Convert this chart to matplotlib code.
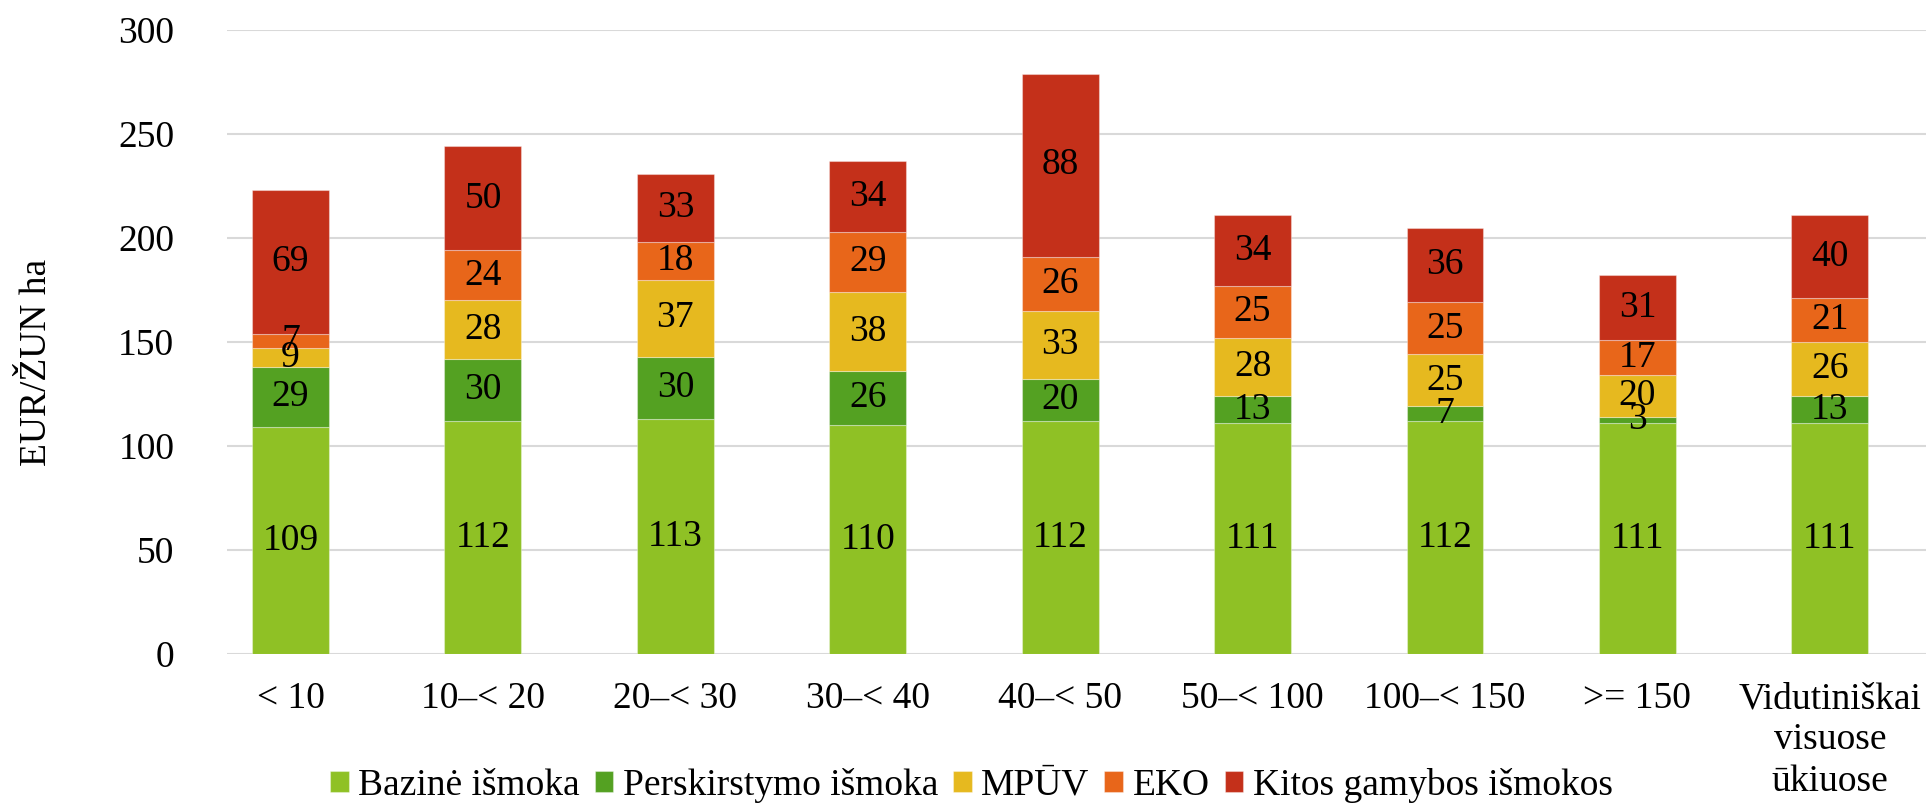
import matplotlib
import numpy as np

matplotlib.use("Agg")
import matplotlib.pyplot as plt  # noqa: E402

plt.rcParams["font.family"] = ["Liberation Serif", "DejaVu Serif"]

# ---------------------------------------------------------------------------
# Data
# ---------------------------------------------------------------------------

categories = [
    "< 10", "10–< 20", "20–< 30", "30–< 40", "40–< 50",
    "50–< 100", "100–< 150", ">= 150", "Vidutiniškai\nvisuose\nūkiuose",
]
series_names = [
    "Bazinė išmoka", "Perskirstymo išmoka", "MPŪV", "EKO",
    "Kitos gamybos išmokos",
]
bazine = [109, 112, 113, 110, 112, 111, 112, 111, 111]
perskirstymo = [29, 30, 30, 26, 20, 13, 7, 3, 13]
mpuv = [9, 28, 37, 38, 33, 28, 25, 20, 26]
eko = [7, 24, 18, 29, 26, 25, 25, 17, 21]
kitos = [69, 50, 33, 34, 88, 34, 36, 31, 40]

colors = ["#8FC125", "#54A122", "#E6B91F", "#E8661A", "#C4301A"]
FS = 27

# ---------------------------------------------------------------------------
# Plot
# ---------------------------------------------------------------------------

fig = plt.figure(figsize=(19.26, 8.05), dpi=100)
ax = fig.add_axes([0.1179, 0.1876, 0.8821, 0.7751])

x = np.arange(len(categories))
bottom = np.zeros(len(categories))
for name, vals, col in zip(series_names, [bazine, perskirstymo, mpuv, eko, kitos], colors):
    vals = np.array(vals, dtype=float)
    bars = ax.bar(x, vals, bottom=bottom, width=0.4, color=col, label=name,
                  edgecolor=(1, 1, 1, 0.35), linewidth=0.8, zorder=3)
    texts = ax.bar_label(bars, labels=[f"{v:.0f}" for v in vals],
                         label_type="center", fontsize=FS, color="black")
    for t in texts:
        t.set_zorder(10)
    bottom += vals

ax.set_xlim(-0.33, 8.5)
ax.set_ylim(0, 300)
ax.set_yticks(range(0, 301, 50))
ax.yaxis.grid(True, color="#D9D9D9", linewidth=1.5, zorder=0)
ax.set_axisbelow(True)
for s in ax.spines.values():
    s.set_visible(False)
ax.tick_params(axis="both", length=0, labelsize=FS)
ax.set_xticks(x)
ax.set_xticklabels(categories, linespacing=1.25, va="top")
ax.tick_params(axis="x", pad=20)
ax.tick_params(axis="y", pad=38)

fig.text(0.019, 0.55, "EUR/ŽUN ha", rotation=90,
         fontsize=FS, ha="center", va="center")

ax.legend(loc="center", bbox_to_anchor=(0.438, -0.21), ncol=5, frameon=False,
          fontsize=FS, handlelength=0.5, handleheight=0.5, handletextpad=0.25,
          columnspacing=0.4)

fig.savefig("out.png", dpi=100)
